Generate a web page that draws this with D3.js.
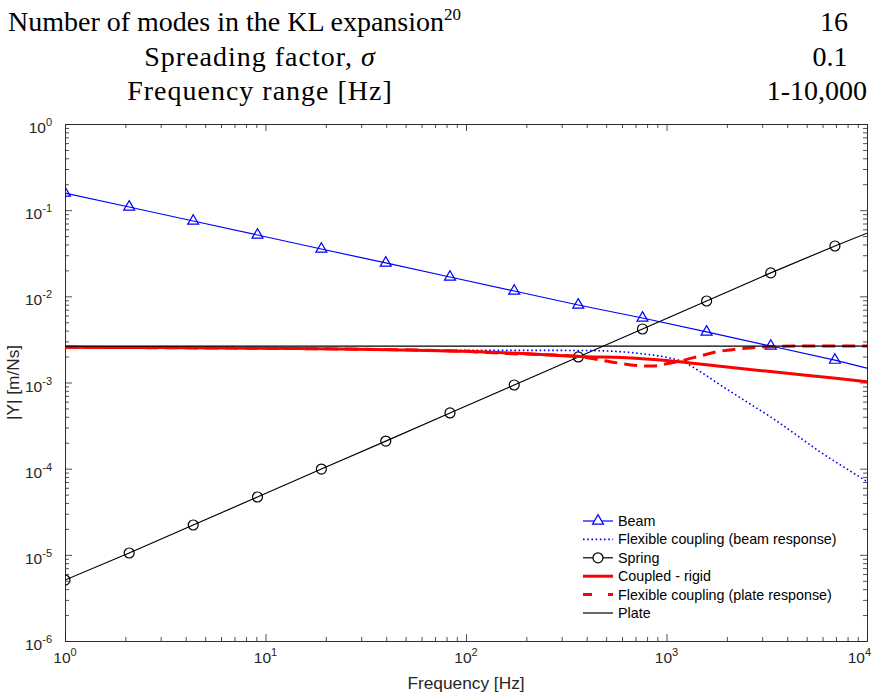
<!DOCTYPE html>
<html>
<head>
<meta charset="utf-8">
<script src="https://cdn.jsdelivr.net/npm/d3@7"></script>
<style>
    body { margin: 0; background: #fff; }
    svg { display: block; }
</style>
</head>
<body>
<div id="chart"></div>
<script>
(function(d3) {
    'use strict';

    // Table above the chart
    var tableLabels = ['Number of modes in the KL expansion', 'Spreading factor, ', 'Frequency range [Hz]'];
    var tableValues = ['16', '0.1', '1-10,000'];

    // Frequencies where markers sit (plus the end of the line at 10^4)
    var markerFreq = [1, 2.09, 4.36, 9.12, 19.0, 39.8, 83.2, 174, 363, 759, 1585, 3311, 6918, 10000];
    var beamY = [0.158, 0.1089, 0.0748, 0.0515, 0.0354, 0.0244, 0.01676, 0.01153, 0.00794,
        0.00561, 0.00386, 0.00265, 0.00182, 0.00147];
    var springY = [5.1e-6, 1.05e-5, 2.22e-5, 4.69e-5, 9.9e-5, 2.09e-4, 4.43e-4, 9.36e-4,
        1.98e-3, 4.18e-3, 8.83e-3, 0.0187, 0.0384, 0.054];

    // Plate mobility (flat)
    var plateFreq = [1, 10000];
    var plateY = [0.00265, 0.00265];

    // Coupled - rigid
    var rigidFreq = [1, 3, 10, 30, 100, 180, 400, 600, 1000, 2000, 4000, 7000, 10000];
    var rigidY = [0.00256, 0.00254, 0.00249, 0.00243, 0.00230, 0.00218, 0.00199, 0.00195,
        0.00180, 0.00151, 0.00128, 0.00112, 0.00102];

    // Flexible coupling (plate response)
    var flexPlateFreq = [1, 10, 30, 100, 160, 250, 370, 540, 710, 850, 1000, 1200, 1500,
        1800, 2200, 2600, 3500, 5000, 10000];
    var flexPlateY = [0.00256, 0.00249, 0.00243, 0.00230, 0.00217, 0.00210, 0.00200, 0.00172,
        0.00158, 0.00155, 0.00165, 0.00180, 0.00206, 0.00228, 0.00243, 0.00252, 0.00262,
        0.00265, 0.00265];

    // Flexible coupling (beam response)
    var flexBeamFreq = [1, 10, 30, 60, 100, 200, 400, 600, 800, 1000, 1200, 1500, 1850,
        2500, 3300, 4500, 5800, 8000, 10000];
    var flexBeamY = [0.00256, 0.00249, 0.00243, 0.00238, 0.00236, 0.00236, 0.00235, 0.00227,
        0.00212, 0.00196, 0.00175, 0.00130, 0.00094, 0.00060, 0.00040, 0.000241, 0.000158,
        0.000098, 0.000071];

    var legendLabels = ['Beam', 'Flexible coupling (beam response)', 'Spring',
        'Coupled - rigid', 'Flexible coupling (plate response)', 'Plate'];

    // Layout
    var width = 872;
    var height = 698;
    var left = 65, right = 867, top = 124, bottom = 641;
    var axisColor = '#262626';
    var sans = 'Liberation Sans, Arial, Helvetica, sans-serif';
    var serif = 'Liberation Serif, Times New Roman, serif';
    var rowY = [31, 66, 100];

    var svg = d3.select('#chart')
        .append('svg')
        .attr('width', width)
        .attr('height', height);

    // ---- Table text ----
    var t1 = svg.append('text')
        .attr('x', 8).attr('y', rowY[0])
        .style('font-family', serif).style('font-size', '28px');
    t1.append('tspan').text(tableLabels[0]);
    t1.append('tspan').attr('dy', -11).style('font-size', '17px').text('20');

    var t2 = svg.append('text')
        .attr('x', 260).attr('y', rowY[1])
        .attr('text-anchor', 'middle')
        .style('font-family', serif).style('font-size', '28px')
        .style('letter-spacing', '1px');
    t2.append('tspan').text(tableLabels[1]);
    t2.append('tspan').style('font-style', 'italic').text('\u03c3');

    svg.append('text')
        .attr('x', 260).attr('y', rowY[2])
        .attr('text-anchor', 'middle')
        .style('font-family', serif).style('font-size', '28px')
        .style('letter-spacing', '1px')
        .text(tableLabels[2]);

    var valueX = [834, 830, 867];
    var valueAnchor = ['middle', 'middle', 'end'];
    svg.selectAll('.tval')
        .data(tableValues)
        .enter()
        .append('text')
        .attr('class', 'tval')
        .attr('x', function(d, i) { return valueX[i]; })
        .attr('y', function(d, i) { return rowY[i]; })
        .attr('text-anchor', function(d, i) { return valueAnchor[i]; })
        .style('font-family', serif).style('font-size', '28px')
        .text(function(d) { return d; });

    // ---- Scales ----
    var x = d3.scaleLog().domain([1, 1e4]).range([left, right]);
    var y = d3.scaleLog().domain([1e-6, 1]).range([bottom, top]);

    var majorX = [1, 10, 100, 1000, 10000];
    var majorY = [1e-6, 1e-5, 1e-4, 1e-3, 1e-2, 1e-1, 1];
    var minorX = [], minorY = [];
    majorX.slice(0, -1).forEach(function(m) {
        for (var k = 2; k < 10; k++) minorX.push(m * k);
    });
    majorY.slice(0, -1).forEach(function(m) {
        for (var k = 2; k < 10; k++) minorY.push(m * k);
    });

    // ---- Axes (MATLAB-like box with inward ticks) ----
    function drawAxis(axisFn, scale, transform, values, size) {
        var g = svg.append('g')
            .attr('transform', transform)
            .call(axisFn(scale).tickValues(values).tickSize(-size).tickSizeOuter(0).tickFormat(''));
        g.select('.domain').attr('stroke', axisColor).attr('stroke-width', 0.8);
        g.selectAll('.tick line').attr('stroke', axisColor).attr('stroke-width', 0.8);
        return g;
    }

    drawAxis(d3.axisBottom, x, 'translate(0,' + bottom + ')', majorX, 7);
    drawAxis(d3.axisBottom, x, 'translate(0,' + bottom + ')', minorX, 4);
    drawAxis(d3.axisTop, x, 'translate(0,' + top + ')', majorX, 7);
    drawAxis(d3.axisTop, x, 'translate(0,' + top + ')', minorX, 4);
    drawAxis(d3.axisLeft, y, 'translate(' + left + ',0)', majorY, 7);
    drawAxis(d3.axisLeft, y, 'translate(' + left + ',0)', minorY, 4);
    drawAxis(d3.axisRight, y, 'translate(' + right + ',0)', majorY, 7);
    drawAxis(d3.axisRight, y, 'translate(' + right + ',0)', minorY, 4);

    // Tick labels with superscripts (last x label kept inside the page)
    svg.selectAll('.xlab')
        .data(majorX)
        .enter()
        .append('text')
        .attr('class', 'xlab')
        .attr('x', function(d, i) { return i === majorX.length - 1 ? width - 1 : x(d); })
        .attr('y', bottom + 22)
        .attr('text-anchor', function(d, i) { return i === majorX.length - 1 ? 'end' : 'middle'; })
        .style('font-family', sans).style('font-size', '15.5px')
        .attr('fill', axisColor)
        .each(function(d) {
            var t = d3.select(this);
            t.append('tspan').text('10');
            t.append('tspan').attr('dy', -7).style('font-size', '11px')
                .text(Math.round(Math.log10(d)));
        });

    svg.selectAll('.ylab')
        .data(majorY)
        .enter()
        .append('text')
        .attr('class', 'ylab')
        .attr('x', left - 13)
        .attr('y', function(d) { return y(d) + 9; })
        .attr('text-anchor', 'end')
        .style('font-family', sans).style('font-size', '15.5px')
        .attr('fill', axisColor)
        .each(function(d) {
            var t = d3.select(this);
            t.append('tspan').text('10');
            t.append('tspan').attr('dy', -7).style('font-size', '11px')
                .text(Math.round(Math.log10(d)));
        });

    // Axis labels
    svg.append('text')
        .attr('x', (left + right) / 2)
        .attr('y', 689)
        .attr('text-anchor', 'middle')
        .style('font-family', sans).style('font-size', '17.3px')
        .attr('fill', axisColor)
        .text('Frequency [Hz]');

    svg.append('text')
        .attr('transform', 'translate(19,' + ((top + bottom) / 2) + ') rotate(-90)')
        .attr('text-anchor', 'middle')
        .style('font-family', sans).style('font-size', '17.3px')
        .attr('fill', axisColor)
        .text('|Y| [m/Ns]');

    // ---- Curves ----
    svg.append('clipPath')
        .attr('id', 'plotClip')
        .append('rect')
        .attr('x', left).attr('y', top)
        .attr('width', right - left).attr('height', bottom - top);

    var plot = svg.append('g').attr('clip-path', 'url(#plotClip)');

    function zipXY(fs, vs) {
        return fs.map(function(f, i) { return [f, vs[i]]; });
    }

    var straight = d3.line()
        .x(function(d) { return x(d[0]); })
        .y(function(d) { return y(d[1]); });

    var smooth = d3.line()
        .x(function(d) { return x(d[0]); })
        .y(function(d) { return y(d[1]); })
        .curve(d3.curveMonotoneX);

    var series = [
        { data: zipXY(markerFreq, beamY), line: straight, color: '#0000ff', w: 1.2, dash: null },
        { data: zipXY(flexBeamFreq, flexBeamY), line: smooth, color: '#0000ff', w: 1.6, dash: '1.6,2.6' },
        { data: zipXY(markerFreq, springY), line: straight, color: '#000000', w: 1.2, dash: null },
        { data: zipXY(rigidFreq, rigidY), line: smooth, color: '#ff0000', w: 3, dash: null },
        { data: zipXY(flexPlateFreq, flexPlateY), line: smooth, color: '#ff0000', w: 3, dash: '13,7' },
        { data: zipXY(plateFreq, plateY), line: straight, color: '#000000', w: 1.2, dash: null }
    ];

    var markerData = [
        zipXY(markerFreq.slice(0, -1), beamY.slice(0, -1)),
        zipXY(markerFreq.slice(0, -1), springY.slice(0, -1))
    ];
    var triangle = d3.symbol().type(d3.symbolTriangle).size(52);

    series.forEach(function(s, i) {
        plot.append('path')
            .attr('d', s.line(s.data))
            .attr('fill', 'none')
            .attr('stroke', s.color)
            .attr('stroke-width', s.w)
            .attr('stroke-dasharray', s.dash);

        if (i === 0) {
            plot.selectAll('.tri')
                .data(markerData[0])
                .enter()
                .append('path')
                .attr('class', 'tri')
                .attr('d', triangle)
                .attr('transform', function(d) {
                    return 'translate(' + x(d[0]) + ',' + y(d[1]) + ')';
                })
                .attr('fill', 'none')
                .attr('stroke', '#0000ff')
                .attr('stroke-width', 1.2);
        }
        if (i === 2) {
            plot.selectAll('.circ')
                .data(markerData[1])
                .enter()
                .append('circle')
                .attr('class', 'circ')
                .attr('cx', function(d) { return x(d[0]); })
                .attr('cy', function(d) { return y(d[1]); })
                .attr('r', 5)
                .attr('fill', 'none')
                .attr('stroke', '#000')
                .attr('stroke-width', 1.2);
        }
    });

    // ---- Legend ----
    var legendX = 583, legendLen = 30, legendTop = 521, legendStep = 18.4;
    var legendDash = [null, '1.6,2.6', null, null, '9,16', null];

    var legend = svg.selectAll('.legend')
        .data(legendLabels)
        .enter()
        .append('g')
        .attr('class', 'legend')
        .attr('transform', function(d, i) {
            return 'translate(' + legendX + ',' + (legendTop + i * legendStep) + ')';
        });

    legend.append('line')
        .attr('x1', 0).attr('x2', legendLen)
        .attr('y1', 0).attr('y2', 0)
        .attr('stroke', function(d, i) { return series[i].color; })
        .attr('stroke-width', function(d, i) { return series[i].w; })
        .attr('stroke-dasharray', function(d, i) { return legendDash[i]; });

    legend.filter(function(d, i) { return i === 0; })
        .append('path')
        .attr('d', triangle)
        .attr('transform', 'translate(' + legendLen / 2 + ',0)')
        .attr('fill', '#fff')
        .attr('stroke', '#0000ff')
        .attr('stroke-width', 1.2);

    legend.filter(function(d, i) { return i === 2; })
        .append('circle')
        .attr('cx', legendLen / 2).attr('cy', 0).attr('r', 5)
        .attr('fill', '#fff')
        .attr('stroke', '#000')
        .attr('stroke-width', 1.2);

    legend.append('text')
        .attr('x', legendLen + 5)
        .attr('y', 5)
        .style('font-family', sans).style('font-size', '14.3px')
        .attr('fill', '#000')
        .text(function(d) { return d; });

})(window.d3);
</script>
</body>
</html>
